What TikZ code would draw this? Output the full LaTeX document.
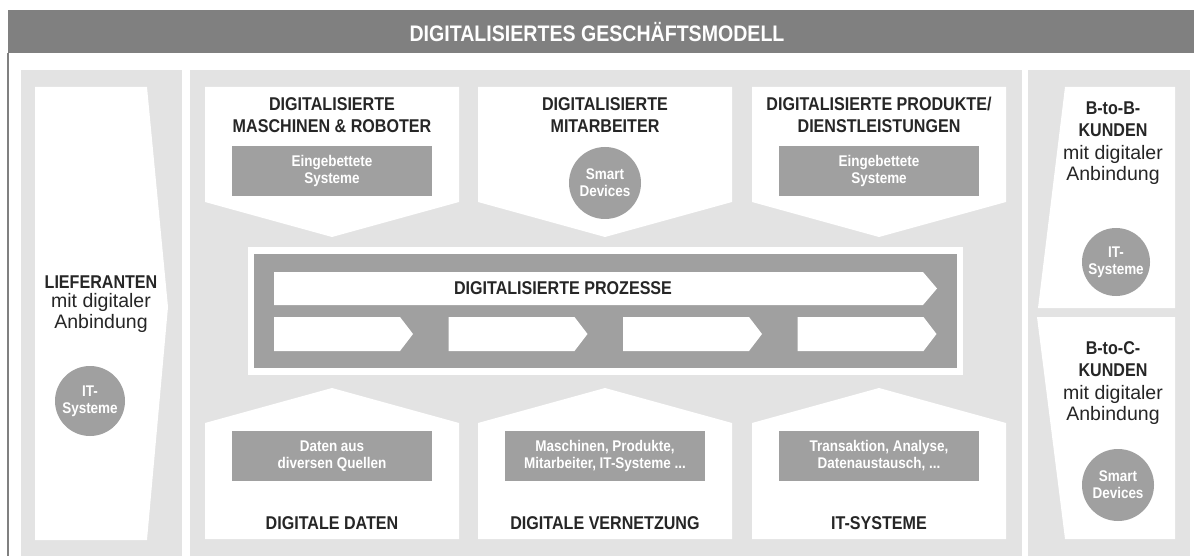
\documentclass[tikz,border=0pt]{standalone}
\usepackage{fontspec}
\setmainfont{Liberation Sans}[BoldFeatures={FakeStretch=0.87}]
\usepackage{tikz}

\definecolor{panelgray}{HTML}{E3E3E3}
\definecolor{titlegray}{HTML}{808080}
\definecolor{boxgray}{HTML}{A0A0A0}
\definecolor{textdark}{HTML}{262626}

\tikzset{
    headtext/.style={font=\bfseries\fontsize{18.5}{22}\selectfont, text=textdark, align=center, inner sep=0pt},
    subtext/.style={font=\fontsize{19.5}{21}\selectfont, text=textdark, align=center, inner sep=0pt},
    sysbox/.style={fill=boxgray, minimum width=200pt, minimum height=50pt, inner sep=0pt,
        text=white, font=\bfseries\fontsize{15.5}{17}\selectfont, align=center},
    devcircle/.style={circle, fill=boxgray, minimum size=72pt, inner sep=0pt,
        text=white, font=\bfseries\fontsize{15.5}{17}\selectfont, align=center},
}

\begin{document}
\begin{tikzpicture}[x=1pt, y=-1pt]
    \useasboundingbox (0,0) rectangle (1194,556);

    \newcommand*{\topshape}{
        \fill[white] (0,87) -- (254,87) -- (254,202) -- (127,237) -- (0,202) -- cycle;
    }
    \newcommand*{\botshape}{
        \fill[white] (0,539) -- (0,423) -- (127,388) -- (254,423) -- (254,539) -- cycle;
    }

    % title bar and frame
    \fill[titlegray] (8,10) rectangle (1194,53);
    \draw[titlegray, line width=1.2pt] (8,53) -- (8,556);
    \node[font=\bfseries\fontsize{22.5}{26}\selectfont, text=white] (title) at (597,32)
        {DIGITALISIERTES GESCHÄFTSMODELL};

    \fill[panelgray] (21,70) rectangle (182,556);
    \fill[panelgray] (190,70) rectangle (1022,556);
    \fill[panelgray] (1028,70) rectangle (1190,556);

    % lieferanten
    \fill[white] (35,87) -- (147,87) -- (168,307) -- (147,540) -- (35,540) -- cycle;
    \node[headtext] (lief) at (101,282) {LIEFERANTEN};
    \node[subtext] (liefsub) at (101,313) {mit digitaler\\Anbindung};
    \node[devcircle, minimum size=70pt] (lief-it) at (90,401) {IT-\\Systeme};

    % top row
    \begin{scope}[shift={(205,0)}]
        \topshape
        \node[headtext] (hd1) at (127,115) {DIGITALISIERTE\\MASCHINEN \& ROBOTER};
        \node[sysbox] (bx1) at (127,171) {Eingebettete\\Systeme};
    \end{scope}

    \begin{scope}[shift={(478,0)}]
        \topshape
        \node[headtext] (hd2) at (127,115) {DIGITALISIERTE\\MITARBEITER};
        \node[devcircle] (bx2) at (127,183) {Smart\\Devices};
    \end{scope}

    \begin{scope}[shift={(752,0)}]
        \topshape
        \node[headtext] (hd3) at (127,115) {DIGITALISIERTE PRODUKTE/\\DIENSTLEISTUNGEN};
        \node[sysbox] (bx3) at (127,171) {Eingebettete\\Systeme};
    \end{scope}

    % prozesse
    \fill[white] (248,247) rectangle (963,375);
    \fill[boxgray] (254,254) rectangle (957,368);
    \fill[white] (274,272) -- (923,272) -- (937,288.5) -- (923,305) -- (274,305) -- cycle;
    \node[headtext] (proz) at (563,288.5) {DIGITALISIERTE PROZESSE};
    \foreach \i in {0,...,3} {
        \fill[white] (274+174.5*\i,317) -- ++(126,0) -- ++(13,17) -- ++(-13,17)
            -- ++(-126,0) -- cycle;
    }

    % bottom row
    \begin{scope}[shift={(205,0)}]
        \botshape
        \node[sysbox] (bx4) at (127,456) {Daten aus\\diversen Quellen};
        \node[headtext] (hd4) at (127,523) {DIGITALE DATEN};
    \end{scope}

    \begin{scope}[shift={(478,0)}]
        \botshape
        \node[sysbox] (bx5) at (127,456) {Maschinen, Produkte,\\Mitarbeiter, IT-Systeme ...};
        \node[headtext] (hd5) at (127,523) {DIGITALE VERNETZUNG};
    \end{scope}

    \begin{scope}[shift={(752,0)}]
        \botshape
        \node[sysbox] (bx6) at (127,456) {Transaktion, Analyse,\\Datenaustausch, ...};
        \node[headtext] (hd6) at (127,523) {IT-SYSTEME};
    \end{scope}

    % kunden
    \fill[white] (1065,87) -- (1175,87) -- (1175,308) -- (1038,308) -- cycle;
    \node[headtext] (b2b) at (1113,119.5) {B-to-B-\\KUNDEN};
    \node[subtext] (b2bsub) at (1113,164.5) {mit digitaler\\Anbindung};
    \node[devcircle, minimum size=68pt] (b2b-it) at (1116,262) {IT-\\Systeme};

    \fill[white] (1037,317) -- (1175,317) -- (1175,539) -- (1065,539) -- cycle;
    \node[headtext] (b2c) at (1113,359.5) {B-to-C-\\KUNDEN};
    \node[subtext] (b2csub) at (1113,404.5) {mit digitaler\\Anbindung};
    \node[devcircle] (b2c-sd) at (1118,485) {Smart\\Devices};

\end{tikzpicture}
\end{document}
